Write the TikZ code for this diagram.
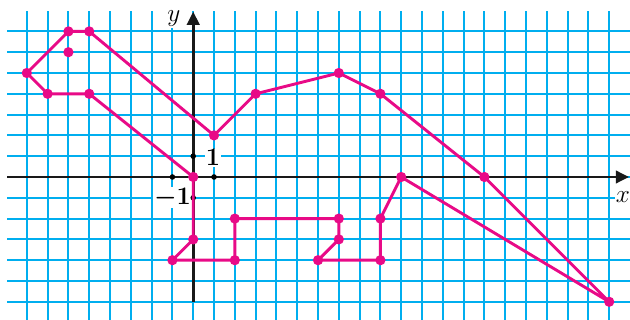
\documentclass[tikz,border=0pt]{standalone}
\usepackage{amsmath,amssymb}
\usetikzlibrary{arrows.meta}

\definecolor{gridcyan}{RGB}{0,174,239}
\definecolor{shapepink}{RGB}{232,10,135}

\begin{document}
\begin{tikzpicture}[
    x=0.5cm, y=0.5cm,
    >={Triangle[length=9pt, width=8.5pt]},
    every node/.style={font=\LARGE},
    gridline/.style={gridcyan, line width=1.3pt},
    axisline/.style={->, black!90, line width=1.9pt},
    outline/.style={shapepink, line width=2pt, line join=round},
    vertex/.style={shapepink},
    tickdot/.style={black},
    axislabel/.style={fill=white, inner sep=0.5pt},
]

% =====================================================================
%  FRAME + GRID
% =====================================================================
\useasboundingbox (-9.29,-6.87) rectangle (21.0,8.51);

\foreach \gy in {-6,...,7}
    \draw[gridline] (-8.95,\gy) -- (21.0,\gy);
\foreach \gx in {-8,...,20}
    \draw[gridline] (\gx,-6.87) -- (\gx,7.98);

% =====================================================================
%  AXES
% =====================================================================
\coordinate (xstart) at (-8.95,0);
\coordinate (xend)   at (20.95,0);
\coordinate (ystart) at (0,-6);
\coordinate (yend)   at (0,7.95);

\draw[axisline] (xstart) -- (xend);
\draw[axisline] (ystart) -- (yend);

% Axis labels
\node[axislabel] (xlab) at (20.66,-0.95) {$x$};
\node[axislabel] (ylab) at (-0.93,7.6) {$y$};
\node[axislabel] (one)  at (0.95,0.92) {$\boldsymbol{1}$};
\node[axislabel] (mone) at (-1.0,-1.0) {$\boldsymbol{-1}$};

% Unit ticks
\fill[tickdot] (1,0)  circle (1.9pt);
\fill[tickdot] (-1,0) circle (1.9pt);
\fill[tickdot] (0,1)  circle (1.9pt);
\fill[tickdot] (0,-1) circle (1.9pt);

% =====================================================================
%  PINK FIGURE
% =====================================================================
\foreach \px/\py [count=\i] in {-8/5, -6/7, -5/7, 1/2, 3/4, 7/5, 9/4, 14/0,
        20/-6, 10/0, 9/-2, 9/-4, 6/-4, 7/-3, 7/-2, 2/-2, 2/-4, -1/-4,
        0/-3, 0/0, -5/4, -7/4}
    \coordinate (p\i) at (\px,\py);
\coordinate (eye) at (-6,6);

\draw[outline] (p1) -- (p2) -- (p3) -- (p4) -- (p5) -- (p6) -- (p7) -- (p8)
    -- (p9) -- (p10) -- (p11) -- (p12) -- (p13) -- (p14) -- (p15) -- (p16)
    -- (p17) -- (p18) -- (p19) -- (p20) -- (p21) -- (p22) -- cycle;

\foreach \i in {1,...,22}
    \fill[vertex] (p\i) circle (3.5pt);
\fill[vertex] (eye) circle (3.5pt);

\end{tikzpicture}
\end{document}
